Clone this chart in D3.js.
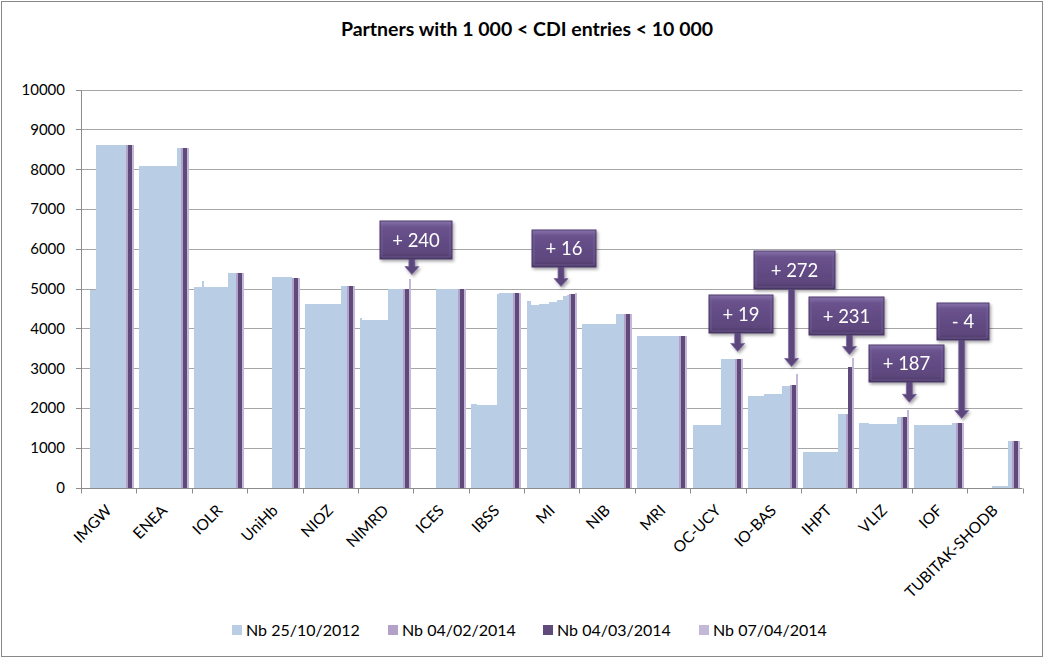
<!DOCTYPE html>
<html>
<head>
<meta charset="utf-8">
<script src="https://cdn.jsdelivr.net/npm/d3@7"></script>
<style>
  body { margin: 0; background: #fff; }
  svg { font-family: Lato, "Open Sans", sans-serif; }
</style>
</head>
<body>
<div id="chart"></div>
<script>
// partners, as on the x axis
const categories = ["IMGW", "ENEA", "IOLR", "UniHb", "NIOZ", "NIMRD", "ICES", "IBSS", "MI",
  "NIB", "MRI", "OC-UCY", "IO-BAS", "IHPT", "VLIZ", "IOF", "TUBITAK-SHODB"];

// light blue snapshots, from 25/10/2012 onwards (21 per partner)
const blueHistory = [
  [0, 0, 0, 4970, 4970, 4970, 8610, 8610, 8610, 8610, 8610, 8610, 8610, 8610, 8610, 8610, 8610, 8610, 8610, 8610, 8610],
  [8070, 8070, 8070, 8070, 8070, 8070, 8070, 8070, 8070, 8070, 8070, 8070, 8070, 8070, 8070, 8070, 8070, 8070, 8070, 8530, 8530],
  [5050, 5050, 5050, 5050, 5200, 5050, 5050, 5050, 5050, 5050, 5050, 5050, 5050, 5050, 5050, 5050, 5050, 5390, 5390, 5390, 5390],
  [0, 0, 0, 0, 0, 0, 0, 0, 0, 0, 0, 5300, 5300, 5300, 5300, 5300, 5300, 5300, 5300, 5300, 5300],
  [4620, 4620, 4620, 4620, 4620, 4620, 4620, 4620, 4620, 4620, 4620, 4620, 4620, 4620, 4620, 4620, 4620, 4620, 5060, 5060, 5060],
  [4250, 4200, 4200, 4200, 4200, 4200, 4200, 4200, 4200, 4200, 4200, 4200, 4200, 4200, 5000, 5000, 5000, 5000, 5000, 5000, 5000],
  [0, 0, 0, 0, 0, 0, 0, 0, 0, 0, 4980, 4980, 4980, 4980, 4980, 4980, 4980, 4980, 4980, 4980, 4980],
  [2110, 2110, 2110, 2070, 2070, 2070, 2070, 2070, 2070, 2070, 2070, 2070, 2070, 4850, 4890, 4890, 4890, 4890, 4890, 4890, 4890],
  [4680, 4680, 4580, 4580, 4580, 4580, 4600, 4600, 4600, 4600, 4600, 4650, 4650, 4650, 4650, 4700, 4700, 4700, 4800, 4800, 4830],
  [4120, 4120, 4120, 4120, 4120, 4120, 4120, 4120, 4120, 4120, 4120, 4120, 4120, 4120, 4120, 4120, 4120, 4350, 4350, 4350, 4350],
  [3800, 3800, 3800, 3800, 3800, 3800, 3800, 3800, 3800, 3800, 3800, 3800, 3800, 3800, 3800, 3800, 3800, 3800, 3800, 3800, 3800],
  [1560, 1560, 1560, 1560, 1560, 1560, 1560, 1560, 1560, 1560, 1560, 1560, 1560, 1560, 3220, 3220, 3220, 3220, 3220, 3220, 3220],
  [2290, 2290, 2290, 2290, 2290, 2290, 2290, 2290, 2360, 2360, 2360, 2360, 2360, 2360, 2360, 2360, 2360, 2560, 2560, 2560, 2560],
  [900, 900, 900, 900, 900, 900, 900, 900, 900, 900, 900, 900, 900, 900, 900, 900, 900, 1850, 1850, 1850, 1850],
  [1620, 1620, 1620, 1620, 1620, 1590, 1590, 1590, 1590, 1590, 1590, 1590, 1590, 1590, 1590, 1590, 1590, 1590, 1590, 1770, 1770],
  [1580, 1580, 1580, 1580, 1580, 1580, 1580, 1580, 1580, 1580, 1580, 1580, 1580, 1580, 1580, 1580, 1580, 1580, 1580, 1620, 1620],
  [0, 0, 0, 0, 0, 0, 0, 0, 0, 0, 0, 40, 40, 40, 40, 40, 40, 40, 40, 1180, 1180]
];

const nbFeb2014 = [8610, 8540, 5390, 5270, 5060, 5000, 4980, 4890, 4850, 4350, 3800, 3220, 2570, 1850, 1770, 1620, 1180];
const nbMar2014 = [8610, 8540, 5390, 5260, 5060, 5000, 4980, 4890, 4860, 4350, 3800, 3220, 2570, 3020, 1770, 1620, 1180];
const nbMar2014bis = [8610, 8540, 5390, 5260, 5060, 5000, 4980, 4890, 4860, 4350, 3800, 3220, 2570, 3020, 1770, 1620, 1180];
const nbApr2014 = [8610, 8540, 5390, 5260, 5060, 5240, 4980, 4890, 4876, 4350, 3800, 3239, 2842, 3251, 1957, 1616, 1180];

const legendNames = ["Nb 25/10/2012", "Nb 04/02/2014", "Nb 04/03/2014", "Nb 07/04/2014"];
const yTicks = [0, 1000, 2000, 3000, 4000, 5000, 6000, 7000, 8000, 9000, 10000];

// hand-placed callouts: category, text, where the arrow points (value), box in px
const callouts = [
  { cat: "NIMRD", text: "+ 240", dx: 54, tip: 5350, box: [380, 221, 72, 38] },
  { cat: "MI", text: "+ 16", dx: 37, tip: 5050, box: [532, 230, 64, 37] },
  { cat: "OC-UCY", text: "+ 19", dx: 47.5, tip: 3420, box: [709, 295, 64, 38] },
  { cat: "IO-BAS", text: "+ 272", dx: 46, tip: 3040, box: [754, 251, 81, 38] },
  { cat: "IHPT", text: "+ 231", dx: 48.5, tip: 3340, box: [809, 297, 75, 38] },
  { cat: "VLIZ", text: "+ 187", dx: 53, tip: 2140, box: [869, 345, 75, 37] },
  { cat: "IOF", text: "- 4", dx: 50, tip: 1735, box: [937, 303, 52, 37] }
];

const width = 1044, height = 658;
const margin = { top: 90, right: 21.5, bottom: 170, left: 81 };

const blue = "#b9cde5", midPurple = "#b3a2c7", darkPurple = "#604a7b", lightPurple = "#c4b8d8";
const nBlue = blueHistory[0].length;
const seriesColors = d3.range(nBlue).map(() => blue).concat([midPurple, darkPurple, darkPurple, lightPurple]);
const legendColors = [blue, midPurple, darkPurple, lightPurple];

const svg = d3.select("#chart").append("svg")
  .attr("width", width)
  .attr("height", height);

svg.append("rect")
  .attr("x", 1.5).attr("y", 1.5)
  .attr("width", width - 3).attr("height", height - 3)
  .attr("fill", "#fff").attr("stroke", "#888").attr("stroke-width", 1);

const x = d3.scaleBand().domain(categories).range([margin.left, width - margin.right]);
const inner = d3.scaleBand().domain(d3.range(seriesColors.length))
  .range([x.bandwidth() * 0.045, x.bandwidth() * 0.95]);
const y = d3.scaleLinear().domain([0, 10000]).range([height - margin.bottom - 0.5, margin.top - 0.5]);

// gridlines
svg.append("g")
  .selectAll("line")
  .data(yTicks.slice(1))
  .join("line")
  .attr("x1", margin.left).attr("x2", width - margin.right)
  .attr("y1", d => Math.round(y(d)) + 0.5).attr("y2", d => Math.round(y(d)) + 0.5)
  .attr("stroke", "#a6a6a6");

// bars
const rows = categories.map((c, i) => ({
  cat: c,
  values: blueHistory[i].concat([nbFeb2014[i], nbMar2014[i], nbMar2014bis[i], nbApr2014[i]])
}));

svg.append("g")
  .attr("shape-rendering", "crispEdges")
  .selectAll("g")
  .data(rows)
  .join("g")
  .attr("transform", d => `translate(${x(d.cat)},0)`)
  .selectAll("rect")
  .data(d => d.values.map((v, k) => ({ v, k })).filter(e => e.v > 0))
  .join("rect")
  .attr("x", e => inner(e.k))
  .attr("width", inner.bandwidth())
  .attr("y", e => y(e.v))
  .attr("height", e => y(0) - y(e.v))
  .attr("fill", e => seriesColors[e.k]);

// axes
const y0 = Math.round(y(0)) + 0.5;
svg.append("line")
  .attr("x1", margin.left).attr("x2", width - margin.right)
  .attr("y1", y0).attr("y2", y0)
  .attr("stroke", "#8c8c8c");
svg.append("line")
  .attr("x1", margin.left + 0.5).attr("x2", margin.left + 0.5)
  .attr("y1", Math.round(y(10000)) + 0.5).attr("y2", y0)
  .attr("stroke", "#8c8c8c");

svg.append("g")
  .selectAll("line")
  .data(categories.concat(["end"]))
  .join("line")
  .attr("x1", (d, i) => Math.round(margin.left + i * x.bandwidth()) + 0.5)
  .attr("x2", (d, i) => Math.round(margin.left + i * x.bandwidth()) + 0.5)
  .attr("y1", y0).attr("y2", y0 + 5)
  .attr("stroke", "#8c8c8c");

const yAxis = svg.append("g");
yAxis.selectAll("line")
  .data(yTicks)
  .join("line")
  .attr("x1", margin.left - 5).attr("x2", margin.left)
  .attr("y1", d => Math.round(y(d)) + 0.5).attr("y2", d => Math.round(y(d)) + 0.5)
  .attr("stroke", "#8c8c8c");
yAxis.selectAll("text")
  .data(yTicks)
  .join("text")
  .attr("x", margin.left - 16)
  .attr("y", d => y(d))
  .attr("dy", "0.36em")
  .attr("text-anchor", "end")
  .attr("font-size", 15)
  .attr("fill", "#000")
  .text(d => d);

svg.append("g")
  .selectAll("text")
  .data(categories)
  .join("text")
  .attr("transform", d => `translate(${x(d) + x.bandwidth() / 2 + 4},${y0 + 23}) rotate(-45)`)
  .attr("text-anchor", "end")
  .attr("font-size", 15.5)
  .attr("fill", "#000")
  .text(d => d);

// title
svg.append("text")
  .attr("x", 527).attr("y", 36)
  .attr("text-anchor", "middle")
  .attr("font-size", 19.5)
  .attr("font-weight", "bold")
  .attr("fill", "#000")
  .text("Partners with 1 000 < CDI entries < 10 000");

// legend
const legendX = [232, 388, 543, 699];
const legend = svg.append("g")
  .selectAll("g")
  .data(legendNames)
  .join("g")
  .attr("transform", (d, i) => `translate(${legendX[i]},630)`);
legend.append("rect")
  .attr("x", 0).attr("y", -5).attr("width", 10).attr("height", 10)
  .attr("fill", (d, i) => legendColors[i]);
legend.append("text")
  .attr("x", 14).attr("dy", "0.36em")
  .attr("font-size", 16)
  .attr("fill", "#000")
  .text(d => d);

// callouts
const defs = svg.append("defs");
const grad = defs.append("linearGradient").attr("id", "calloutFill")
  .attr("x1", 0).attr("y1", 0).attr("x2", 0).attr("y2", 1);
grad.append("stop").attr("offset", "0%").attr("stop-color", "#8a75ad");
grad.append("stop").attr("offset", "16%").attr("stop-color", "#6a528d");
grad.append("stop").attr("offset", "85%").attr("stop-color", "#5c467c");
grad.append("stop").attr("offset", "100%").attr("stop-color", "#46345f");
const shadow = defs.append("filter").attr("id", "calloutShadow")
  .attr("x", "-20%").attr("y", "-20%").attr("width", "150%").attr("height", "150%");
shadow.append("feDropShadow").attr("dx", 1.5).attr("dy", 2).attr("stdDeviation", 1.5)
  .attr("flood-color", "#000").attr("flood-opacity", 0.35);

const co = svg.append("g")
  .selectAll("g")
  .data(callouts)
  .join("g")
  .attr("filter", "url(#calloutShadow)");

co.append("path")
  .attr("d", d => {
    const sx = x(d.cat) + d.dx;
    const tipY = y(d.tip);
    const top = d.box[1] + d.box[3];
    const headTop = tipY - 8;
    return `M${sx - 3},${top} L${sx + 3},${top} L${sx + 3},${headTop} L${sx + 7},${headTop}
      L${sx},${tipY} L${sx - 7},${headTop} L${sx - 3},${headTop} Z`;
  })
  .attr("fill", "#5c467c")
  .attr("stroke", "#7c66a0")
  .attr("stroke-width", 0.8);

co.append("rect")
  .attr("x", d => d.box[0]).attr("y", d => d.box[1])
  .attr("width", d => d.box[2]).attr("height", d => d.box[3])
  .attr("fill", "url(#calloutFill)")
  .attr("stroke", "#4d3a6b")
  .attr("stroke-width", 1);

co.append("rect")
  .attr("x", d => d.box[0] + 2).attr("y", d => d.box[1] + 2)
  .attr("width", d => d.box[2] - 4).attr("height", d => d.box[3] - 4)
  .attr("fill", "none")
  .attr("stroke", "#7d68a0")
  .attr("stroke-opacity", 0.6)
  .attr("stroke-width", 1);

co.append("text")
  .attr("x", d => d.box[0] + d.box[2] / 2)
  .attr("y", d => d.box[1] + d.box[3] / 2)
  .attr("dy", "0.36em")
  .attr("text-anchor", "middle")
  .attr("font-size", 18.5)
  .attr("fill", "#fff")
  .text(d => d.text);
</script>
</body>
</html>
